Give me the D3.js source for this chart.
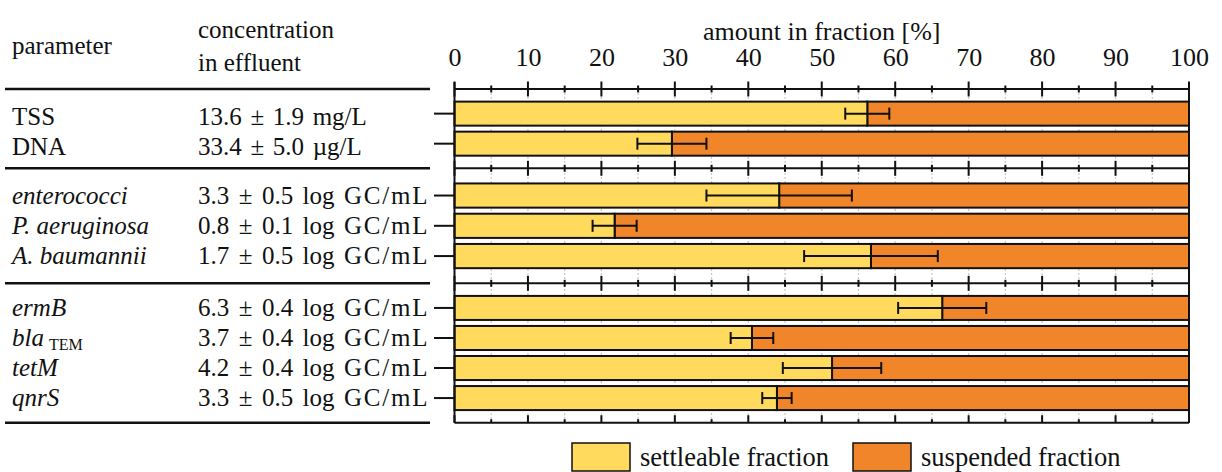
<!DOCTYPE html>
<html>
<head>
<meta charset="utf-8">
<script src="https://cdn.jsdelivr.net/npm/d3@7"></script>
<style>
  html, body { margin: 0; padding: 0; background: #fff; }
  svg { display: block; }
</style>
</head>
<body>
<svg id="chart" width="1222" height="472"></svg>
<script>
// ---- data ----
const parameters = ["TSS", "DNA", "enterococci", "P. aeruginosa", "A. baumannii", "ermB", "bla", "tetM", "qnrS"];
const paramSub = ["", "", "", "", "", "", "TEM", "", ""];
const paramItalic = [false, false, true, true, true, true, true, true, true];
const groupOf = [0, 0, 1, 1, 1, 2, 2, 2, 2];
const concentration = [
  "13.6 \u00b1 1.9 mg/L",
  "33.4 \u00b1 5.0 \u00b5g/L",
  "3.3 \u00b1 0.5 log GC/mL",
  "0.8 \u00b1 0.1 log GC/mL",
  "1.7 \u00b1 0.5 log GC/mL",
  "6.3 \u00b1 0.4 log GC/mL",
  "3.7 \u00b1 0.4 log GC/mL",
  "4.2 \u00b1 0.4 log GC/mL",
  "3.3 \u00b1 0.5 log GC/mL"
];
const settleable = [56.2, 29.6, 44.2, 21.8, 56.7, 66.4, 40.5, 51.4, 43.9];
const settleableErr = [3.0, 4.7, 9.9, 3.0, 9.1, 6.0, 2.9, 6.7, 2.0];
const xTicksMajor = [0, 10, 20, 30, 40, 50, 60, 70, 80, 90, 100];
const seriesNames = ["settleable fraction", "suspended fraction"];
const seriesColors = ["#FFDA5C", "#F0852A"];

// ---- layout ----
const FONT = "Liberation Serif";
const panelLines = [89, 168.3, 283.3, 422.7];
const panelOuterPad = [0.42, 0.5, 0.42];
const frameTop = 82;
const tableLeft = 5, tableRight = 430;
const colParam = 12, colConc = 198;
const tableSize = 25;
// log-unit rows are typeset a little looser
const isLogRow = s => s.includes("log");
const wordGapOf = s => (isLogRow(s) ? 3.2 : 2.4);
const unitLetterGap = w => (w.startsWith("GC") ? 1.8 : 0);

const svg = d3.select("#chart");
const x = d3.scaleLinear().domain([0, 100]).range([454.5, 1189]);

// serif text helper
function label(parent, px, py, size, str) {
  return parent.append("text").attr("x", px).attr("y", py)
    .style("font-family", FONT).style("font-size", size + "px")
    .attr("fill", "#111").text(str);
}

// one band scale per panel
const panelScales = [0, 1, 2].map(g => d3.scaleBand()
  .domain(parameters.map((p, i) => i).filter(i => groupOf[i] === g))
  .range([panelLines[g], panelLines[g + 1]])
  .paddingInner(0.2)
  .paddingOuter(panelOuterPad[g]));
const yTop = i => panelScales[groupOf[i]](i);
const bw = i => panelScales[groupOf[i]].bandwidth();
const yMid = i => yTop(i) + bw(i) / 2;

// dotted grid at every 5 %
const gridVals = d3.range(5, 100, 5);
svg.append("g").selectAll("line").data(gridVals).join("line")
  .attr("x1", d => x(d)).attr("x2", d => x(d))
  .attr("y1", panelLines[0]).attr("y2", panelLines[3])
  .attr("stroke", "#c8c8c8").attr("stroke-width", 1.2)
  .attr("stroke-dasharray", "2,2");

// bars
const idx = d3.range(parameters.length);
const bars = svg.append("g");
bars.selectAll("rect.susp").data(idx).join("rect").attr("class", "susp")
  .attr("x", i => x(settleable[i])).attr("width", i => x(100) - x(settleable[i]))
  .attr("y", yTop).attr("height", bw)
  .attr("fill", seriesColors[1]).attr("stroke", "#111").attr("stroke-width", 2);
bars.selectAll("rect.sett").data(idx).join("rect").attr("class", "sett")
  .attr("x", x(0)).attr("width", i => x(settleable[i]) - x(0))
  .attr("y", yTop).attr("height", bw)
  .attr("fill", seriesColors[0]).attr("stroke", "#111").attr("stroke-width", 2);

// error bars
const err = svg.append("g").attr("stroke", "#111").attr("stroke-width", 2);
err.selectAll("line.h").data(idx).join("line").attr("class", "h")
  .attr("x1", i => x(settleable[i] - settleableErr[i]))
  .attr("x2", i => x(settleable[i] + settleableErr[i]))
  .attr("y1", yMid).attr("y2", yMid);
[-1, 1].forEach(s => {
  err.selectAll("line.c" + (s + 1)).data(idx).join("line").attr("class", "c" + (s + 1))
    .attr("x1", i => x(settleable[i] + s * settleableErr[i]))
    .attr("x2", i => x(settleable[i] + s * settleableErr[i]))
    .attr("y1", i => yMid(i) - 6).attr("y2", i => yMid(i) + 6);
});

// frame: left and right verticals
const frame = svg.append("g").attr("stroke", "#111").attr("stroke-width", 2);
[0, 100].forEach(v => frame.append("line")
  .attr("x1", x(v)).attr("x2", x(v)).attr("y1", frameTop).attr("y2", panelLines[3]));

// horizontal axes with crossing ticks
const minorVals = d3.range(5, 100, 10);
panelLines.forEach((ly, k) => {
  const last = k === panelLines.length - 1;
  const g = svg.append("g").attr("stroke", "#111").attr("stroke-width", 2);
  g.append("line").attr("x1", x(0)).attr("x2", x(100)).attr("y1", ly).attr("y2", ly);
  g.selectAll("line.maj").data(xTicksMajor).join("line").attr("class", "maj")
    .attr("x1", d => x(d)).attr("x2", d => x(d))
    .attr("y1", ly - 7.5).attr("y2", last ? ly : ly + 7.5);
  g.selectAll("line.min").data(minorVals).join("line").attr("class", "min")
    .attr("x1", d => x(d)).attr("x2", d => x(d))
    .attr("y1", ly - 3.5).attr("y2", last ? ly : ly + 3.5);
});

// y ticks at each row
svg.append("g").attr("stroke", "#111").attr("stroke-width", 2)
  .selectAll("line").data(idx).join("line")
  .attr("x1", 434).attr("x2", x(0)).attr("y1", yMid).attr("y2", yMid);

// top tick labels
const xAxis = d3.axisTop(x).tickValues(xTicksMajor).tickSize(0).tickFormat(d3.format("d"));
const ax = svg.append("g").attr("transform", "translate(0,66)").call(xAxis);
ax.select(".domain").remove();
ax.attr("font-family", null).attr("font-size", null);
ax.selectAll("text").style("font-family", FONT).style("font-size", "26px")
  .attr("fill", "#111").attr("dy", 0).attr("y", 0);

label(svg, x(50), 40, 26, "amount in fraction [%]").attr("text-anchor", "middle");

// table
panelLines.forEach(ly => svg.append("line")
  .attr("x1", tableLeft).attr("x2", tableRight).attr("y1", ly).attr("y2", ly)
  .attr("stroke", "#111").attr("stroke-width", 2.5));
const tbl = svg.append("g");
label(tbl, colParam, 54, tableSize, "parameter");
label(tbl, colConc, 38, tableSize, "concentration");
label(tbl, colConc, 70.5, tableSize, "in effluent");

const rowBase = i => yMid(i) + (groupOf[i] === 0 ? 11 : 8);
idx.forEach(i => {
  const t = label(tbl, colParam, rowBase(i), tableSize, null)
    .style("font-style", paramItalic[i] ? "italic" : "normal");
  t.append("tspan").text(parameters[i]);
  if (paramSub[i]) {
    t.append("tspan").style("font-style", "normal").style("font-size", "16px")
      .attr("dx", 5).attr("dy", 4).text(paramSub[i]);
  }
  // concentration: words with slightly widened gaps
  const c = label(tbl, colConc, rowBase(i), tableSize, null);
  const wg = wordGapOf(concentration[i]);
  concentration[i].split(" ").forEach((w, j) => {
    const gap = unitLetterGap(w);
    if (gap > 0) {
      w.split("").forEach((ch, k) => {
        c.append("tspan").attr("dx", k ? gap : wg)
          .text((k ? "" : "\u00a0") + ch);
      });
    } else {
      c.append("tspan").attr("dx", j ? wg : 0).text((j ? "\u00a0" : "") + w);
    }
  });
});

// legend
const legX = [572, 853];
seriesNames.forEach((name, k) => {
  svg.append("rect").attr("x", legX[k]).attr("y", 443).attr("width", 58).attr("height", 28)
    .attr("fill", seriesColors[k]).attr("stroke", "#111").attr("stroke-width", 1.5);
  label(svg, legX[k] + 68, 466, 26.5, name);
});
</script>
</body>
</html>
